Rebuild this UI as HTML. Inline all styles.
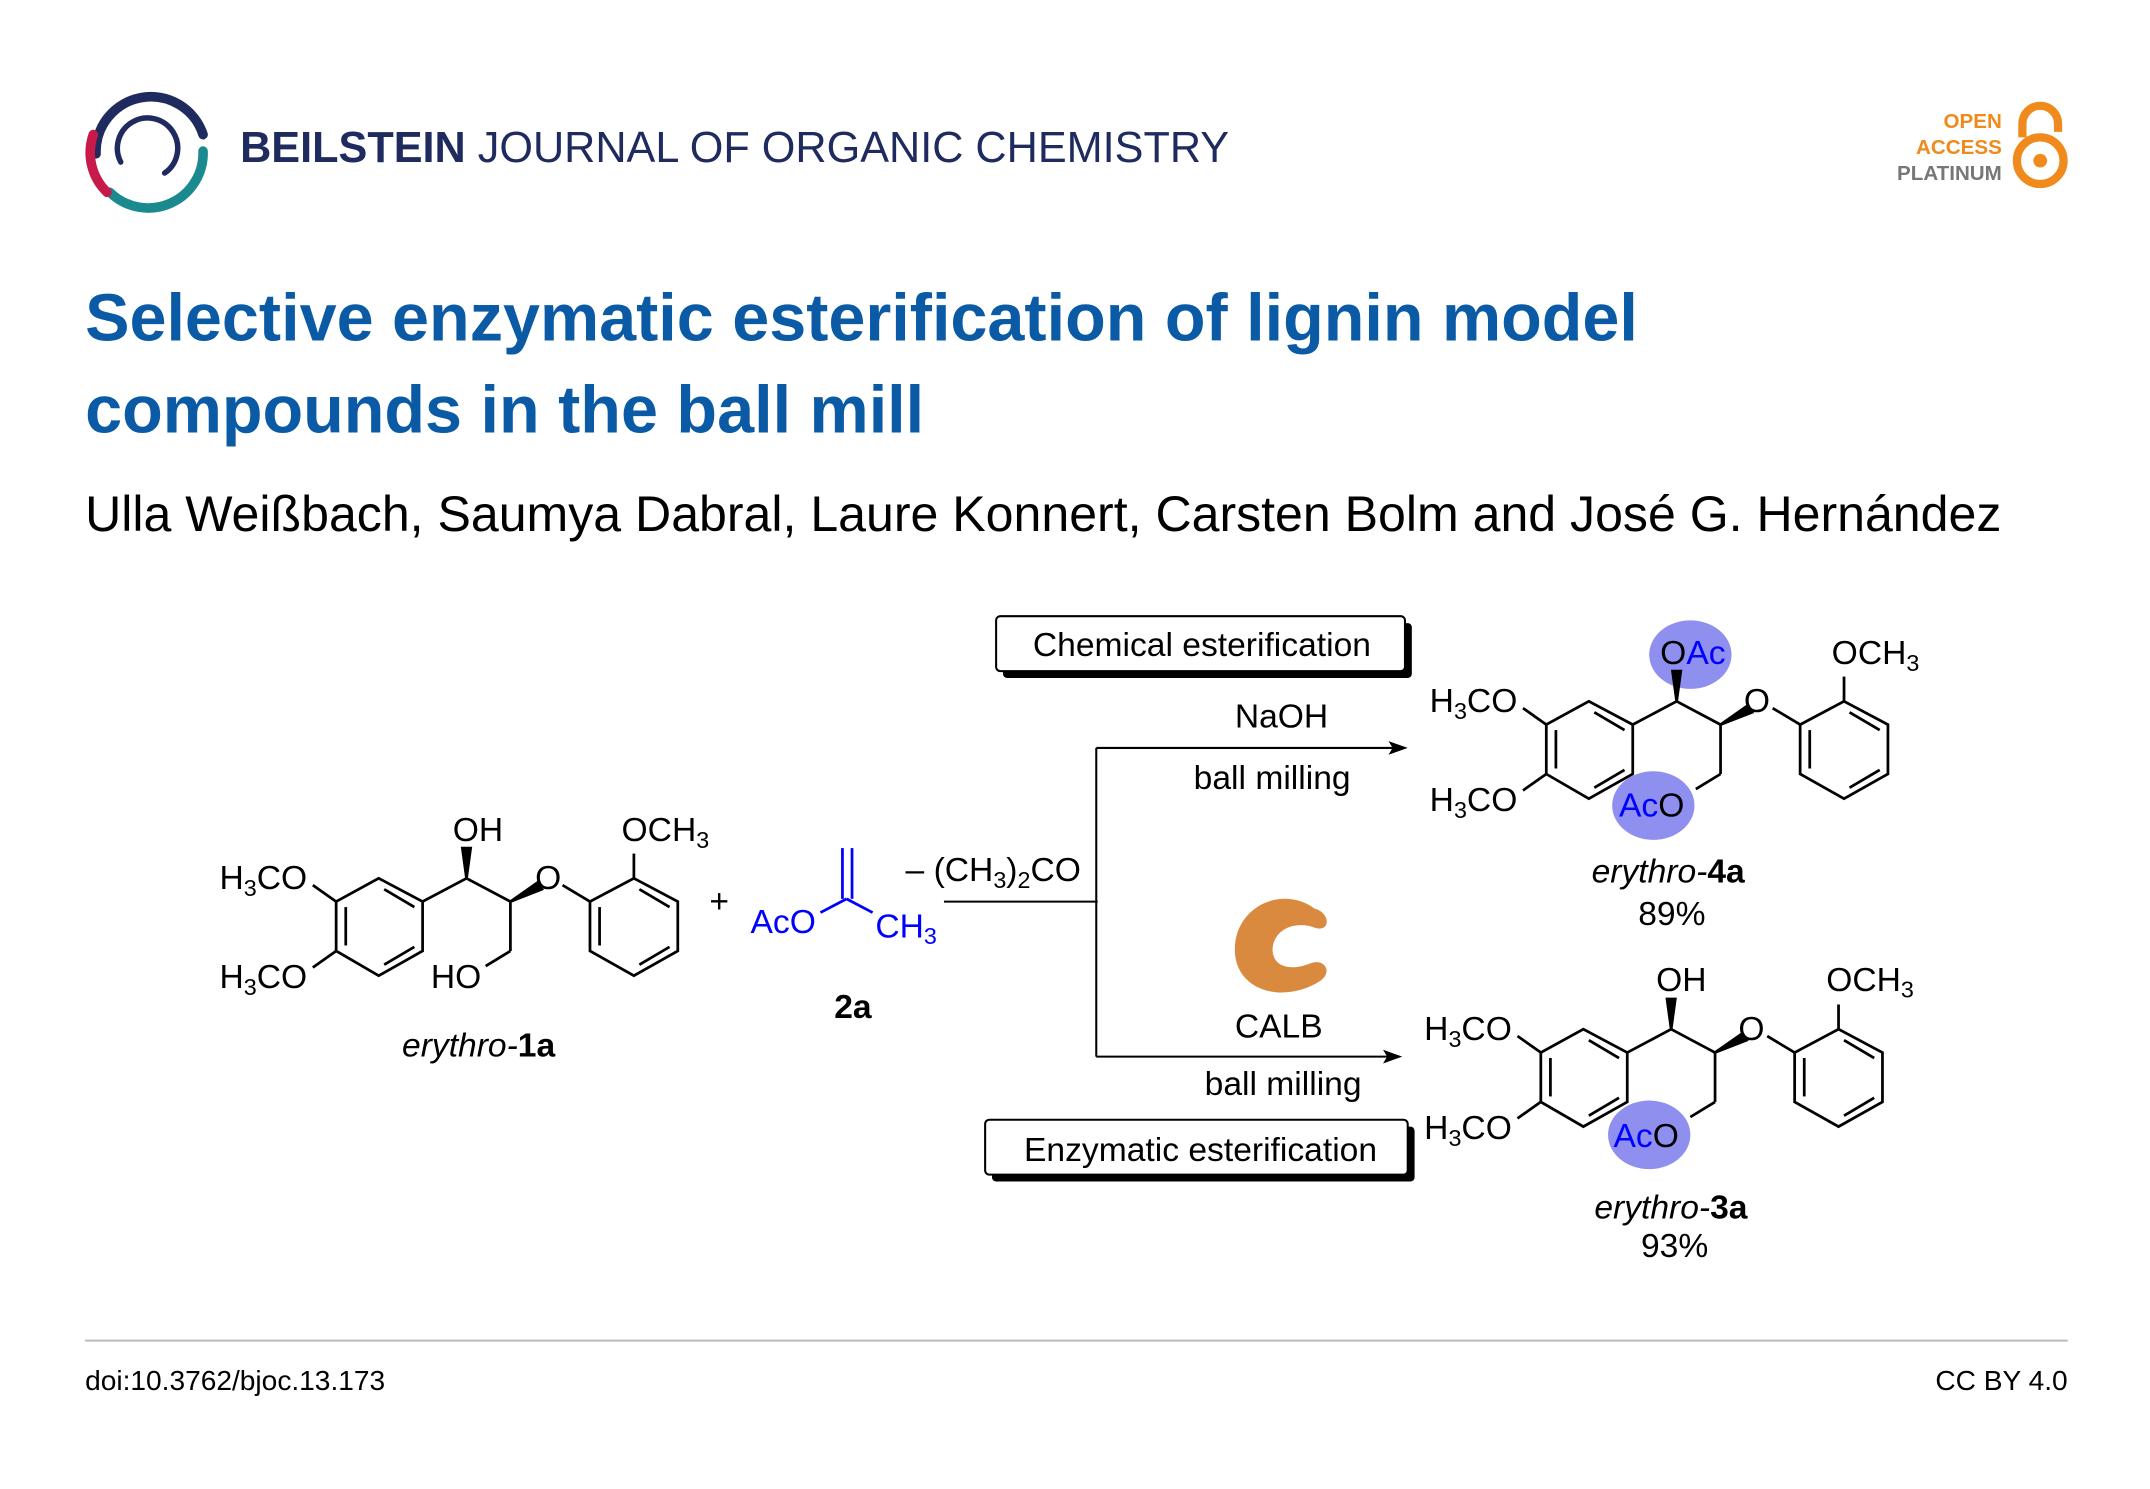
<!DOCTYPE html>
<html><head><meta charset="utf-8"><style>
html,body{margin:0;padding:0;background:#fff}
svg{display:block}
text{font-family:"Liberation Sans",sans-serif}
</style></head><body>
<svg width="2150" height="1489" viewBox="0 0 1567 1085" xmlns="http://www.w3.org/2000/svg">
<defs>
<g id="skel" stroke="#000" stroke-width="2" fill="none">
  <polygon points="245,657 276,640 308,657 308,693 276,711 245,693"/>
  <line x1="252" y1="661" x2="252" y2="689"/>
  <line x1="280" y1="703" x2="302" y2="690"/>
  <line x1="280" y1="648" x2="302" y2="661"/>
  <line x1="245" y1="657" x2="228" y2="645"/>
  <line x1="245" y1="693" x2="228" y2="705"/>
  <line x1="308" y1="657" x2="340" y2="640"/>
  <line x1="340" y1="640" x2="372" y2="657"/>
  <polygon points="340,640 337,618 343,618" fill="#000"/>
  <polygon points="372,657 392,643 395,648" fill="#000"/>
  <line x1="410" y1="645" x2="430" y2="657"/>
  <line x1="372" y1="657" x2="372" y2="693"/>
  <line x1="372" y1="693" x2="354" y2="704"/>
  <polygon points="430,657 462,640 494,657 494,693 462,711 430,693"/>
  <line x1="437" y1="661" x2="437" y2="689"/>
  <line x1="466" y1="703" x2="488" y2="690"/>
  <line x1="466" y1="648" x2="488" y2="661"/>
  <line x1="462" y1="640" x2="462" y2="622"/>
</g>
</defs>

<g fill="none" stroke-width="7" stroke-linecap="round">
  <path d="M 70 112 A 40 40 0 0 1 148 98" stroke="#1f2b5e"/>
  <path d="M 148 110 A 40 40 0 0 1 80 140" stroke="#1b8a8f"/>
  <path d="M 78 140 A 40 40 0 0 1 68 98" stroke="#c8194b"/>
  <path d="M 88 118 A 22 22 0 1 1 120 126" stroke="#1f2b5e" stroke-width="4"/>
</g>
<text x="175" y="118" font-size="31.5" fill="#1f2b5e"><tspan font-weight="bold">BEILSTEIN</tspan> JOURNAL OF ORGANIC CHEMISTRY</text>
<g font-size="15" font-weight="bold" text-anchor="end">
<text x="1459" y="93" fill="#f08a1c">OPEN</text>
<text x="1459" y="112" fill="#f08a1c">ACCESS</text>
<text x="1459" y="131" fill="#777">PLATINUM</text>
</g>
<path d="M1474 100 V90 A13 13 0 0 1 1500 90 V96" fill="none" stroke="#f08a1c" stroke-width="6"/>
<circle cx="1487" cy="117" r="17" fill="none" stroke="#f08a1c" stroke-width="6"/>
<circle cx="1487" cy="117" r="5" fill="#f08a1c"/>

<text x="62" y="248" font-size="48.5" font-weight="bold" fill="#0b5aa6">Selective enzymatic esterification of lignin model</text>
<text x="62" y="315" font-size="48.5" font-weight="bold" fill="#0b5aa6">compounds in the ball mill</text>
<text x="62" y="387" font-size="36.5" fill="#000">Ulla Weißbach, Saumya Dabral, Laure Konnert, Carsten Bolm and José G. Hernández</text>

<g fill="#8f8ff0">
<ellipse cx="1232" cy="477" rx="30" ry="25"/>
<ellipse cx="1205" cy="587" rx="30" ry="25"/>
<ellipse cx="1202" cy="827" rx="30" ry="25"/>
</g>

<use href="#skel"/>
<g font-size="24.5" fill="#000">
<text x="160" y="648">H<tspan font-size="17" dy="5">3</tspan><tspan dy="-5">CO</tspan></text>
<text x="160" y="720">H<tspan font-size="17" dy="5">3</tspan><tspan dy="-5">CO</tspan></text>
<text x="330" y="613">OH</text>
<text x="390" y="648">O</text>
<text x="453" y="613">OCH<tspan font-size="17" dy="5">3</tspan></text>
<text x="314" y="720">HO</text>
<text x="293" y="770" font-style="italic">erythro-<tspan font-style="normal" font-weight="bold">1a</tspan></text>
<text x="517" y="665">+</text>
</g>

<g stroke="#00f" stroke-width="2"><line x1="598" y1="665" x2="617" y2="655"/><line x1="617" y1="655" x2="636" y2="665"/><line x1="614" y1="655" x2="614" y2="618"/><line x1="621" y1="655" x2="621" y2="618"/></g>
<g font-size="24.5" fill="#00f">
<text x="547" y="680">AcO</text>
<text x="638" y="683">CH<tspan font-size="17" dy="5">3</tspan></text>
</g>
<text x="608" y="742" font-size="24.5" font-weight="bold">2a</text>

<g stroke="#000" stroke-width="1.5" fill="none">
<line x1="688" y1="657" x2="800" y2="657"/>
<line x1="799" y1="545" x2="799" y2="770"/>
<line x1="799" y1="545" x2="1018" y2="545"/>
<line x1="799" y1="770" x2="1014" y2="770"/>
</g>
<polygon points="1026,545 1012,540 1015,545 1012,550" fill="#000"/>
<polygon points="1022,770 1008,765 1011,770 1008,775" fill="#000"/>
<g font-size="24.5" fill="#000">
<text x="660" y="642">– (CH<tspan font-size="17" dy="5">3</tspan><tspan dy="-5">)</tspan><tspan font-size="17" dy="5">2</tspan><tspan dy="-5">CO</tspan></text>
<text x="900" y="530">NaOH</text>
<text x="870" y="575">ball milling</text>
<text x="900" y="756">CALB</text>
<text x="878" y="798">ball milling</text>
</g>
<rect x="731" y="454" width="298" height="40" fill="#000" rx="3"/>
<rect x="726" y="449" width="298" height="40" fill="#fff" stroke="#000" stroke-width="1.5" rx="3"/>
<text x="876" y="478" font-size="24.5" text-anchor="middle">Chemical esterification</text>
<rect x="723" y="821" width="308" height="40" fill="#000" rx="3"/>
<rect x="718" y="816" width="308" height="40" fill="#fff" stroke="#000" stroke-width="1.5" rx="3"/>
<text x="875" y="846" font-size="24.5" text-anchor="middle">Enzymatic esterification</text>
<path d="M958 662 C935 645 900 660 900 692 C900 722 935 732 962 715 C972 708 965 698 955 702 C935 710 925 700 928 688 C932 674 948 672 958 676 C970 680 970 665 958 662 Z" fill="#d98a3e"/>

<use href="#skel" transform="translate(882,-129)"/>
<g font-size="24.5" fill="#000">
<text x="1042" y="519">H<tspan font-size="17" dy="5">3</tspan><tspan dy="-5">CO</tspan></text>
<text x="1042" y="591">H<tspan font-size="17" dy="5">3</tspan><tspan dy="-5">CO</tspan></text>
<text x="1210" y="484"><tspan>O</tspan><tspan fill="#00f">Ac</tspan></text>
<text x="1271" y="519">O</text>
<text x="1335" y="484">OCH<tspan font-size="17" dy="5">3</tspan></text>
<text x="1180" y="595"><tspan fill="#00f">Ac</tspan>O</text>
<text x="1160" y="643" font-style="italic">erythro-<tspan font-style="normal" font-weight="bold">4a</tspan></text>
<text x="1194" y="674">89%</text>
</g>
<use href="#skel" transform="translate(878,110)"/>
<g font-size="24.5" fill="#000">
<text x="1038" y="758">H<tspan font-size="17" dy="5">3</tspan><tspan dy="-5">CO</tspan></text>
<text x="1038" y="830">H<tspan font-size="17" dy="5">3</tspan><tspan dy="-5">CO</tspan></text>
<text x="1207" y="722">OH</text>
<text x="1267" y="758">O</text>
<text x="1331" y="722">OCH<tspan font-size="17" dy="5">3</tspan></text>
<text x="1176" y="836"><tspan fill="#00f">Ac</tspan>O</text>
<text x="1162" y="888" font-style="italic">erythro-<tspan font-style="normal" font-weight="bold">3a</tspan></text>
<text x="1196" y="916">93%</text>
</g>

<line x1="62" y1="977" x2="1507" y2="977" stroke="#bbb" stroke-width="1.5"/>
<text x="62" y="1013" font-size="20.5">doi:10.3762/bjoc.13.173</text>
<text x="1507" y="1013" font-size="20.5" text-anchor="end">CC BY 4.0</text>
</svg>
</body></html>
